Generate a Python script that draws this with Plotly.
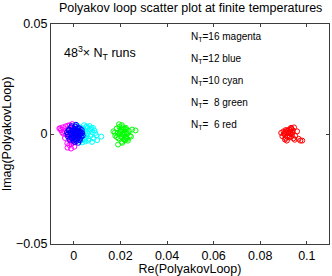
import plotly.graph_objects as go

# N_T = 16 (magenta)
mag_x = [-0.0062, -0.0055, -0.0048, -0.0040, -0.0035, -0.0030, -0.0025, -0.0022, -0.0018, -0.0015,
         -0.0012, -0.0010, -0.0008, -0.0005, -0.0003, 0.0000, 0.0002, 0.0004, 0.0006, 0.0008,
         0.0010, 0.0012, 0.0015, 0.0018, 0.0020, 0.0024, 0.0028, -0.0028, -0.0020, -0.0038,
         -0.0014, 0.0005, -0.0045, -0.0007, 0.0016, -0.0025, -0.0033, 0.0000, -0.0010, 0.0009,
         -0.0027, -0.0012, 0.0002, -0.0058, -0.0050]
mag_y = [0.0025, 0.0018, 0.0030, 0.0012, 0.0035, 0.0005, 0.0022, -0.0010, 0.0040, -0.0020,
         0.0015, -0.0030, 0.0008, -0.0005, 0.0028, -0.0015, 0.0010, -0.0025, 0.0020, -0.0008,
         0.0032, -0.0012, 0.0004, -0.0028, 0.0016, -0.0006, 0.0009, -0.0042, -0.0050, -0.0018,
         -0.0035, -0.0038, 0.0002, 0.0045, -0.0022, 0.0038, -0.0002, 0.0024, -0.0046, 0.0011,
         -0.0062, -0.0066, -0.0058, 0.0026, 0.0008]

# N_T = 10 (cyan)
cyan_x = [0.0020, 0.0025, 0.0030, 0.0034, 0.0038, 0.0042, 0.0045, 0.0048, 0.0052, 0.0055,
          0.0058, 0.0062, 0.0066, 0.0070, 0.0075, 0.0080, 0.0085, 0.0092, 0.0100, 0.0118,
          0.0028, 0.0036, 0.0044, 0.0050, 0.0060, 0.0068, 0.0040, 0.0032, 0.0056, 0.0064,
          0.0072, 0.0024, 0.0047, 0.0088, 0.0078, 0.0053, 0.0015, 0.0010, 0.0096, 0.0082]
cyan_y = [0.0018, -0.0012, 0.0030, 0.0005, -0.0025, 0.0022, -0.0005, 0.0012, -0.0018, 0.0035,
          0.0002, -0.0030, 0.0015, -0.0010, 0.0026, 0.0008, -0.0020, 0.0004, -0.0028, -0.0012,
          -0.0032, -0.0038, 0.0040, -0.0034, 0.0028, 0.0036, 0.0010, 0.0024, -0.0008, -0.0022,
          0.0020, 0.0006, -0.0026, 0.0016, -0.0036, 0.0032, 0.0038, -0.0022, -0.0006, 0.0028]

# N_T = 12 (blue)
blue_x = [-0.0030, -0.0025, -0.0020, -0.0016, -0.0012, -0.0008, -0.0005, -0.0002, 0.0000, 0.0003,
          0.0005, 0.0008, 0.0010, 0.0012, 0.0015, 0.0018, 0.0020, 0.0023, 0.0026, 0.0030,
          0.0034, 0.0038, -0.0018, -0.0010, -0.0004, 0.0002, 0.0006, 0.0011, 0.0016, 0.0022,
          0.0027, -0.0014, -0.0007, 0.0001, 0.0009, 0.0014, 0.0019, 0.0025, 0.0032, -0.0022,
          0.0004, 0.0012, -0.0001, 0.0007, 0.0017, 0.0029, -0.0011, 0.0021, 0.0036, -0.0026]
blue_y = [0.0008, -0.0012, 0.0020, -0.0002, 0.0030, -0.0020, 0.0012, -0.0030, 0.0004, 0.0024,
          -0.0010, 0.0016, -0.0024, 0.0008, -0.0004, 0.0028, -0.0016, 0.0010, -0.0028, 0.0002,
          0.0018, -0.0008, -0.0026, 0.0036, -0.0014, -0.0036, 0.0034, -0.0032, 0.0022, 0.0014,
          -0.0020, 0.0006, -0.0006, 0.0014, 0.0042, -0.0018, -0.0040, 0.0026, -0.0012, 0.0016,
          -0.0024, 0.0000, 0.0020, -0.0004, 0.0006, 0.0010, -0.0016, -0.0008, 0.0004, -0.0002]

# N_T = 8 (green)
green_x = [0.0170, 0.0178, 0.0184, 0.0188, 0.0192, 0.0196, 0.0200, 0.0203, 0.0206, 0.0209,
           0.0212, 0.0215, 0.0218, 0.0221, 0.0224, 0.0228, 0.0232, 0.0236, 0.0240, 0.0250,
           0.0265, 0.0190, 0.0198, 0.0205, 0.0211, 0.0217, 0.0223, 0.0230, 0.0185, 0.0194,
           0.0202, 0.0213, 0.0220, 0.0227, 0.0176, 0.0245, 0.0208, 0.0199, 0.0226, 0.0216]
green_y = [0.0012, -0.0008, 0.0025, 0.0005, -0.0020, 0.0032, 0.0010, -0.0012, 0.0040, -0.0002,
           0.0018, -0.0025, 0.0008, -0.0015, 0.0022, 0.0000, -0.0030, 0.0014, -0.0008, 0.0020,
           0.0016, -0.0048, 0.0004, -0.0035, 0.0030, -0.0005, 0.0028, -0.0022, -0.0014, 0.0044,
           0.0020, 0.0002, -0.0028, 0.0006, 0.0006, -0.0012, -0.0040, 0.0014, -0.0018, 0.0024]

# N_T = 6 (red)
red_x = [0.0890, 0.0895, 0.0900, 0.0904, 0.0908, 0.0912, 0.0915, 0.0918, 0.0921, 0.0924,
         0.0927, 0.0930, 0.0933, 0.0936, 0.0940, 0.0945, 0.0950, 0.0958, 0.0965, 0.0980,
         0.0906, 0.0914, 0.0920, 0.0926, 0.0932, 0.0938, 0.0910, 0.0917, 0.0929, 0.0942,
         0.0902, 0.0923, 0.0935, 0.0948, 0.0972]
red_y = [0.0005, -0.0010, 0.0012, 0.0002, -0.0018, 0.0008, 0.0015, -0.0006, 0.0004, 0.0020,
         -0.0012, 0.0010, 0.0025, -0.0002, 0.0016, 0.0030, -0.0008, 0.0012, -0.0022, -0.0030,
         -0.0025, -0.0030, 0.0012, -0.0016, 0.0028, 0.0006, 0.0018, -0.0014, 0.0002, -0.0020,
         0.0000, 0.0006, 0.0022, -0.0026, -0.0030]

series = [
    ("N_T=16", mag_x, mag_y, "#ff00ff"),
    ("N_T=10", cyan_x, cyan_y, "#00ffff"),
    ("N_T=12", blue_x, blue_y, "#0000ff"),
    ("N_T=8", green_x, green_y, "#00ff00"),
    ("N_T=6", red_x, red_y, "#ff0000"),
]

x_ticks = [0, 0.02, 0.04, 0.06, 0.08, 0.1]
x_ticktext = ["0", "0.02", "0.04", "0.06", "0.08", "0.1"]
y_ticks = [-0.05, 0, 0.05]
y_ticktext = ["\u22120.05", "0", "0.05"]

legend_lines = ["N<sub>T</sub>=16 magenta", "N<sub>T</sub>=12 blue", "N<sub>T</sub>=10 cyan",
                "N<sub>T</sub>=  8 green", "N<sub>T</sub>=  6 red"]

FONT = "Liberation Sans, Arial, Helvetica, sans-serif"

fig = go.Figure()
for name, xs, ys, col in series:
    fig.add_trace(go.Scatter(
        x=xs, y=ys, mode="markers", name=name,
        marker=dict(symbol="circle-open", size=5, color=col, line=dict(width=1, color=col)),
    ))

axis_common = dict(
    showline=True, linecolor="#3c3c3c", linewidth=1, mirror="ticks",
    ticks="inside", ticklen=3, tickcolor="#3c3c3c", showgrid=False, zeroline=False,
    tickfont=dict(family=FONT, size=12.5, color="black"),
)

fig.update_layout(
    width=332, height=276,
    margin=dict(l=51, r=3, t=24, b=32),
    paper_bgcolor="white", plot_bgcolor="white",
    showlegend=False,
    font=dict(family=FONT, color="black"),
    xaxis=dict(range=[-0.0098, 0.1095], tickvals=x_ticks, ticktext=x_ticktext,
               title=dict(text="Re(PolyakovLoop)", font=dict(size=12.5), standoff=0), **axis_common),
    yaxis=dict(range=[-0.05, 0.05], tickvals=y_ticks, ticktext=y_ticktext,
               title=dict(text="Imag(PolyakovLoop)", font=dict(size=12.5), standoff=2), **axis_common),
)

fig.add_annotation(text="Polyakov loop scatter plot at finite temperatures",
                   xref="paper", yref="paper", x=0.5, y=1, yshift=16,
                   showarrow=False, font=dict(size=12.5), xanchor="center", yanchor="middle")
fig.add_annotation(text="48<sup>3</sup>× N<sub>T</sub> runs", xref="paper", yref="paper",
                   x=0.038, y=0.87, showarrow=False, font=dict(size=12.5),
                   xanchor="left", yanchor="middle")
for i, t in enumerate(legend_lines):
    fig.add_annotation(text=t, xref="paper", yref="paper",
                       x=0.495, y=0.94 - i * 0.1, showarrow=False, font=dict(size=10),
                       xanchor="left", yanchor="middle")

fig.write_html("out.html", config={"displayModeBar": False, "staticPlot": True},
               post_script="document.body.style.margin='0';document.body.style.overflow='hidden';")
